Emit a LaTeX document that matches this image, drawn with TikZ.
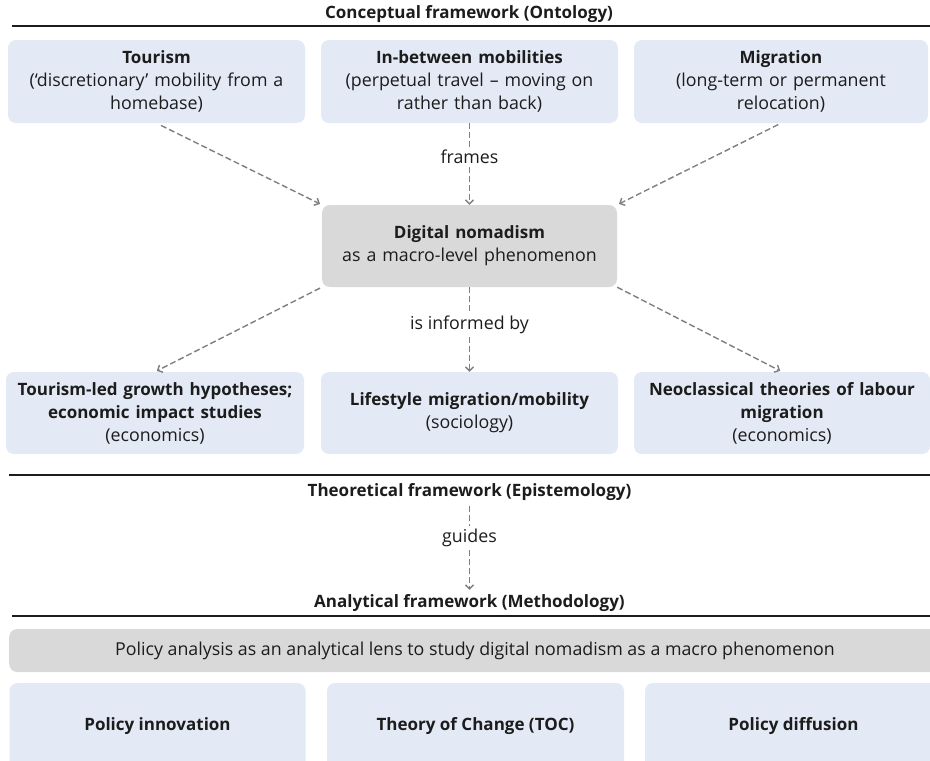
\documentclass[tikz,border=0pt]{standalone}
\usepackage{fontspec}
\setmainfont{Open Sans}
\usepackage{xcolor}
\usepackage{tikz}
\usetikzlibrary{positioning,arrows.meta,calc}
\definecolor{boxblue}{HTML}{E3EAF5}
\definecolor{boxgray}{HTML}{D9D9D9}
\definecolor{arrgray}{HTML}{7F7F7F}
\definecolor{ink}{HTML}{1C1C1C}
\newcommand{\bt}[1]{{\fontsize{17}{23}\selectfont\bfseries #1}}

\begin{document}
\begin{tikzpicture}[
  x=1pt, y=-1pt,
  font=\fontsize{17.8}{23}\selectfont, text=ink,
  box/.style={rectangle, rounded corners=8pt, fill=boxblue, align=center, inner sep=4pt},
  graybox/.style={box, fill=boxgray},
  hd/.style={font=\fontsize{17}{20}\selectfont\bfseries},
  lbl/.style={font=\fontsize{17.8}{20}\selectfont},
  rule/.style={line width=1.6pt, ink},
  arr/.style={-{Straight Barb[length=4pt,width=8pt]}, arrgray, line width=1.4pt, dash pattern=on 6pt off 3pt},
  seg/.style={arrgray, line width=1.4pt, dash pattern=on 6pt off 3pt},
]
\useasboundingbox (0,0) rectangle (930,761);

% ---------- Conceptual framework ----------
\node[hd] (conc) at (469,14) {Conceptual framework (Ontology)};
\draw[rule] (12,26) -- (930,26);

\node[box, minimum width=297pt, minimum height=83pt, text width=289pt] (tour) at (156.5,81.5)
  {\bt{Tourism}\\(‘discretionary’ mobility from a\\homebase)};
\node[box, minimum width=297pt, minimum height=83pt, text width=289pt] (inbet) at (469.5,81.5)
  {\bt{In-between mobilities}\\(perpetual travel – moving on\\rather than back)};
\node[box, minimum width=294pt, minimum height=83pt, text width=286pt] (migr) at (781,81.5)
  {\bt{Migration}\\(long-term or permanent\\relocation)};

\node[graybox, minimum width=295pt, minimum height=82pt, text width=287pt] (digi) at (469.5,246)
  {\bt{Digital nomadism}\\as a macro-level phenomenon};

\node[lbl] (frames) at (469.5,157) {frames};
\node[lbl] (inform) at (469.5,325) {is informed by};

\draw[seg] (inbet) -- (frames);
\draw[arr] (frames) -- (digi);
\draw[arr, shorten <=5pt, shorten >=2pt] (tour.south) -- (digi.north west);
\draw[arr, shorten <=3pt, shorten >=2pt] (migr.south) -- (digi.north east);

\node[box, minimum width=296pt, minimum height=82pt, text width=290pt] (tlg) at (155,413)
  {\bt{Tourism-led growth hypotheses;}\\\bt{economic impact studies}\\(economics)};
\node[box, minimum width=297pt, minimum height=82pt, text width=289pt] (life) at (469.5,413)
  {\bt{Lifestyle migration/mobility}\\(sociology)};
\node[box, minimum width=292pt, minimum height=82pt, text width=288pt] (neo) at (782,413)
  {\bt{Neoclassical theories of labour}\\\bt{migration}\\(economics)};

\draw[seg] (digi) -- (inform);
\draw[arr] (inform) -- (life);
\draw[arr, shorten <=2pt, shorten >=2pt] (digi.south west) -- (tlg.north);
\draw[arr, shorten >=2pt] (digi.south east) -- (neo.north);

% ---------- Theoretical -> Analytical ----------
\draw[rule] (9,475) -- (930,475);
\node[hd] (theo) at (469.5,492) {Theoretical framework (Epistemology)};
\node[lbl] (guides) at (469.5,538) {guides};
\node[hd] (anal) at (469.5,603) {Analytical framework (Methodology)};
\draw[rule] (12,616) -- (930,616);

\draw[seg, shorten <=2pt] (theo) -- (guides);
\draw[arr, shorten >=1pt] (guides) -- (anal);

% ---------- Methodology ----------
\node[graybox, minimum width=940pt, minimum height=43pt, anchor=west] (lens) at (9,650.5)
  {};
\node[lbl] (lenstxt) at (475,650.5) {Policy analysis as an analytical lens to study digital nomadism as a macro phenomenon};

\node[box, minimum width=296pt, minimum height=86pt, font=\fontsize{17}{20}\selectfont\bfseries] (pinn) at (157.5,726) {Policy innovation};
\node[box, minimum width=297pt, minimum height=86pt, font=\fontsize{17}{20}\selectfont\bfseries] (toc) at (475.5,726) {Theory of Change (TOC)};
\node[box, minimum width=297pt, minimum height=86pt, font=\fontsize{17}{20}\selectfont\bfseries] (pdif) at (793.5,726) {Policy diffusion};
\end{tikzpicture}
\end{document}
